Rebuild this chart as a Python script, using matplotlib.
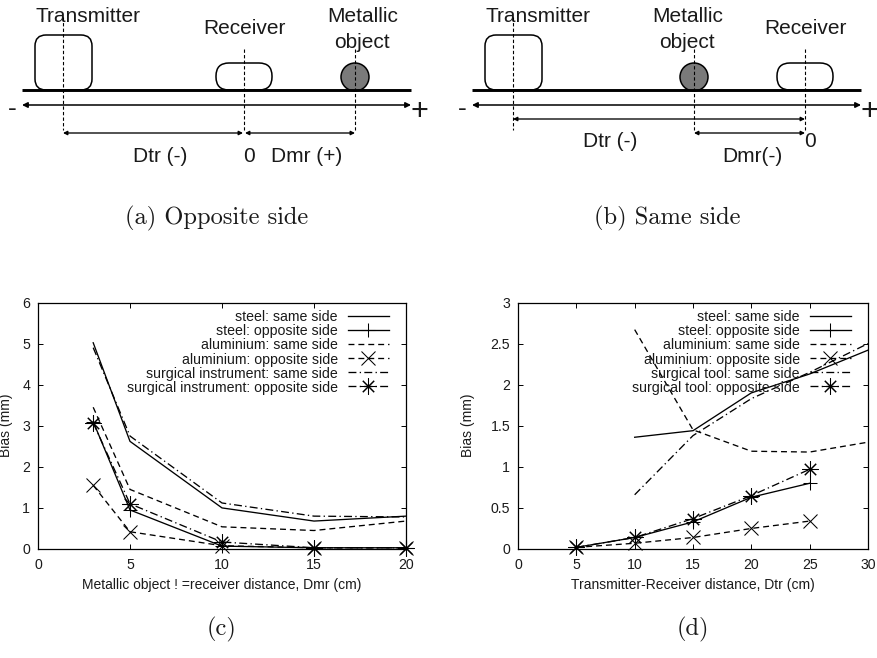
import matplotlib
matplotlib.use("Agg")
import matplotlib.pyplot as plt
from matplotlib.patches import FancyBboxPatch, Circle

plt.rcParams['font.family'] = ['Liberation Sans', 'DejaVu Sans']
plt.rcParams['axes.unicode_minus'] = False

W, H = 878, 658
INK = '#1a1a1a'

# ---- data, panel (c) ----
dmr = [3, 5, 10, 15, 20]
c_steel_same = [5.02, 2.62, 1.0, 0.68, 0.8]
c_steel_opp = [3.1, 0.95, 0.07, 0.03, 0.03]
c_alu_same = [3.45, 1.45, 0.54, 0.45, 0.68]
c_alu_opp = [1.55, 0.42, 0.08, 0.03, 0.03]
c_surg_same = [4.9, 2.75, 1.12, 0.8, 0.78]
c_surg_opp = [3.07, 1.1, 0.17, 0.03, 0.03]
c_names = ['steel: same side', 'steel: opposite side', 'aluminium: same side',
           'aluminium: opposite side', 'surgical instrument: same side',
           'surgical instrument: opposite side']
c_xticks = [0, 5, 10, 15, 20]
c_yticks = [0, 1, 2, 3, 4, 5, 6]

# ---- data, panel (d) ----
dtr_same = [10, 15, 20, 25, 30]
dtr_opp = [5, 10, 15, 20, 25]
d_steel_same = [1.36, 1.44, 1.9, 2.13, 2.42]
d_steel_opp = [0.02, 0.14, 0.33, 0.63, 0.8]
d_alu_same = [2.67, 1.45, 1.19, 1.18, 1.3]
d_alu_opp = [0.02, 0.07, 0.14, 0.25, 0.34]
d_surg_same = [0.66, 1.38, 1.83, 2.15, 2.5]
d_surg_opp = [0.02, 0.14, 0.37, 0.65, 0.97]
d_names = ['steel: same side', 'steel: opposite side', 'aluminium: same side',
           'aluminium: opposite side', 'surgical tool: same side',
           'surgical tool: opposite side']
d_xticks = [0, 5, 10, 15, 20, 25, 30]
d_yticks = [0, 0.5, 1, 1.5, 2, 2.5, 3]
d_yticklabels = ['0', '0.5', '1', '1.5', '2', '2.5', '3']

fig = plt.figure(figsize=(W / 100, H / 100), dpi=100)
STAR = (8, 2, 0)
DASH = (0, (4.5, 3))
DDOT = (0, (6, 2.5, 1, 2.5))
styles = [
    dict(ls='-', marker=None, ms=10),
    dict(ls='-', marker='+', ms=10),
    dict(ls=DASH, marker=None, ms=10),
    dict(ls=DASH, marker='x', ms=10),
    dict(ls=DDOT, marker=None, ms=10),
    dict(ls=DDOT, marker=STAR, ms=11.5),
]


def axes_px(x0, x1, y0, y1):
    return fig.add_axes([x0 / W, 1 - y1 / H, (x1 - x0) / W, (y1 - y0) / H])


def panel(box, xs, series, names, xticks, yticks, ylim, xlim, legend_right, ylabels=None):
    ax = axes_px(*box)
    for (x, y), name, st in zip(zip(xs, series), names, styles):
        ax.plot(x, y, color='black', lw=0.95, ls=st['ls'], marker=st['marker'],
                ms=st['ms'], mew=0.75, label=name, clip_on=False if st['marker'] else True,
                dash_capstyle='butt')
    ax.set_xlim(*xlim)
    ax.set_ylim(*ylim)
    ax.set_xticks(xticks)
    ax.set_yticks(yticks)
    if ylabels:
        ax.set_yticklabels(ylabels)
    ax.tick_params(direction='in', top=True, right=True, length=3.8, width=0.7,
                   labelsize=10.2, labelcolor=INK)
    ax.tick_params(axis='x', pad=6.5)
    ax.tick_params(axis='y', pad=5.5)
    for s in ax.spines.values():
        s.set_linewidth(0.9)
    leg = ax.legend(loc='upper right', frameon=False, markerfirst=False, numpoints=1,
                    bbox_to_anchor=(legend_right / W, 1 - 310 / H),
                    bbox_transform=fig.transFigure, borderpad=0, borderaxespad=0,
                    fontsize=10.2, labelspacing=0.0, handlelength=2.9, handletextpad=0.7,
                    handleheight=0.99)
    for t in leg.get_texts():
        t.set_color(INK)
    return ax


panel((38, 406, 302.5, 549), [dmr] * 6,
      [c_steel_same, c_steel_opp, c_alu_same, c_alu_opp, c_surg_same, c_surg_opp],
      c_names, c_xticks, c_yticks, (0, 6), (0, 20), 389)
panel((518, 868, 302.5, 549),
      [dtr_same, dtr_opp, dtr_same, dtr_opp, dtr_same, dtr_opp],
      [d_steel_same, d_steel_opp, d_alu_same, d_alu_opp, d_surg_same, d_surg_opp],
      d_names, d_xticks, d_yticks, (0, 3), (0, 30), 851, d_yticklabels)

# overlay in pixel coordinates for the schematics and free labels
ov = fig.add_axes([0, 0, 1, 1], facecolor='none')
ov.set_xlim(0, W)
ov.set_ylim(H, 0)
ov.axis('off')


def label(x, y, s, size=15, **kw):
    ov.text(x, y, s, ha=kw.pop('ha', 'center'), va='center', fontsize=size, color=INK, **kw)


def rbox(x0, x1, y0, y1, r):
    ov.add_patch(FancyBboxPatch((x0 + r, y0 + r), x1 - x0 - 2 * r, y1 - y0 - 2 * r,
                                boxstyle=f'round,pad={r},rounding_size={r}',
                                fc='white', ec='black', lw=1.1, zorder=2))


def varrow(x0, x1, y, lw=0.95, ms=6):
    ov.annotate('', xy=(x1, y), xytext=(x0, y), zorder=5,
                arrowprops=dict(arrowstyle='<|-|>', color='black', lw=lw, mutation_scale=ms,
                                shrinkA=0, shrinkB=0))


def diagram(dx, obj_c, rx_c, tx_c, rx_l, tx_l):
    ov.plot([dx + 22, dx + 411], [90, 90], color='black', lw=2.1, zorder=3, solid_capstyle='butt')
    rbox(tx_l, tx_l + 57, 35, 90, 11)
    rbox(rx_l, rx_l + 56, 63, 90, 13)
    ov.add_patch(Circle((obj_c, 77), 14, fc='#7a7a7a', ec='black', lw=1.1, zorder=2))
    varrow(dx + 22, dx + 411, 105, lw=1.1, ms=8)
    label(dx + 12, 109, '-', size=19)
    label(dx + 419, 112, '+', size=22)
    for x, y0 in ((tx_c, 17), (rx_c, 49), (obj_c, 49)):
        ov.plot([x, x], [y0, 130], color='black', lw=0.8, ls=(0, (3, 2)), zorder=4)


# panel (a)
diagram(0, 355, 244, 63, 216, 35)
varrow(63, 243, 133)
varrow(245, 355, 133)
label(88, 16, 'Transmitter')
label(244, 29, 'Receiver')
label(363, 16, 'Metallic')
label(362, 42, 'object')
label(160, 156.5, 'Dtr (-)')
label(249, 156.5, '0')
label(307, 156.5, 'Dmr (+)')

# panel (b)
diagram(450, 694, 805, 513, 777, 485)
varrow(513, 805, 119)
varrow(694, 805, 133)
label(538, 16, 'Transmitter')
label(688, 16, 'Metallic')
label(687, 42, 'object')
label(805, 29, 'Receiver')
label(610, 141.5, 'Dtr (-)')
label(810, 141.5, '0')
label(752, 156.5, 'Dmr(-)')

# axis and panel captions
label(222, 585.5, 'Metallic object ! =receiver distance, Dmr (cm)', size=10)
label(693, 585.5, 'Transmitter-Receiver distance, Dtr (cm)', size=10)
label(6, 425, 'Bias (mm)', size=10, rotation=90)
label(468, 425, 'Bias (mm)', size=10, rotation=90)
CAP = ['cmr10', 'DejaVu Serif']
label(217, 218, '(a) Opposite side', size=17.6, family=CAP)
label(667, 218, '(b) Same side', size=17.6, family=CAP)
label(222, 629, '(c)', size=17.6, family=CAP)
label(693, 629, '(d)', size=17.6, family=CAP)

fig.savefig('out.png', dpi=100)
